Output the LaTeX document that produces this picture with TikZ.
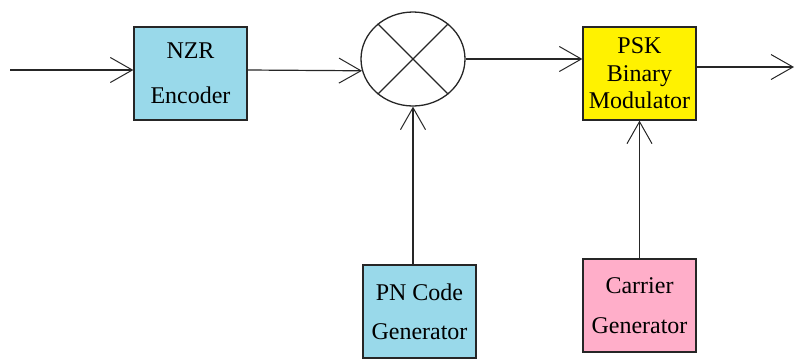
\documentclass[tikz,border=0pt]{standalone}
\usepackage{fontspec}
\setmainfont{Liberation Serif}
\usetikzlibrary{shapes.geometric,arrows.meta}
\definecolor{boxblue}{RGB}{153,217,234}
\definecolor{boxyellow}{RGB}{255,242,0}
\definecolor{boxpink}{RGB}{255,174,201}
\tikzset{
  blk/.style={draw=black!85, line width=1.3pt, minimum width=113pt, minimum height=93pt,
    inner sep=0pt, align=center},
  lines/.style={font=\fontsize{24}{#1}\selectfont},
  wire/.style={line width=1.2pt, draw=black!85},
  arr/.style={wire, -{Straight Barb[length=22pt,width=25pt,line width=1pt]}},
}
\begin{document}
\begin{tikzpicture}[x=1pt,y=-1pt]
  \useasboundingbox (0,0) rectangle (795,360);

  % blocks
  \node[blk, fill=boxblue, lines=45] (nzr) at (190.5,73.5) {NZR\\ Encoder};
  \node[draw=black!85, line width=1.3pt, ellipse, minimum width=104pt, minimum height=94pt,
    inner sep=0pt] (mix) at (413,59) {};
  \node[blk, fill=boxyellow, lines=27.5] (psk) at (639.5,73.5) {PSK\\ Binary\\ Modulator};
  \node[blk, fill=boxblue, lines=39] (pn) at (419.5,311.5) {PN Code\\ Generator};
  \node[blk, fill=boxpink, lines=40] (car) at (639.5,305.5) {Carrier\\ Generator};

  % multiplier cross
  \draw[wire] (mix.135) -- (mix.315);
  \draw[wire] (mix.45) -- (mix.225);

  % free ends
  \coordinate (in) at (10,70);
  \coordinate (out) at (794,67);

  % signal path
  \draw[arr] (in) -- (in -| nzr.west);
  \draw[arr] (nzr.east |- in) -- (mix.193);
  \draw[arr] (mix.east) -- (mix.east -| psk.west);
  \draw[arr] (out -| psk.east) -- (out);
  \draw[arr] (mix.south |- pn.north) -- (mix.south);
  \draw[arr] (car.north) -- (psk.south);
\end{tikzpicture}
\end{document}
